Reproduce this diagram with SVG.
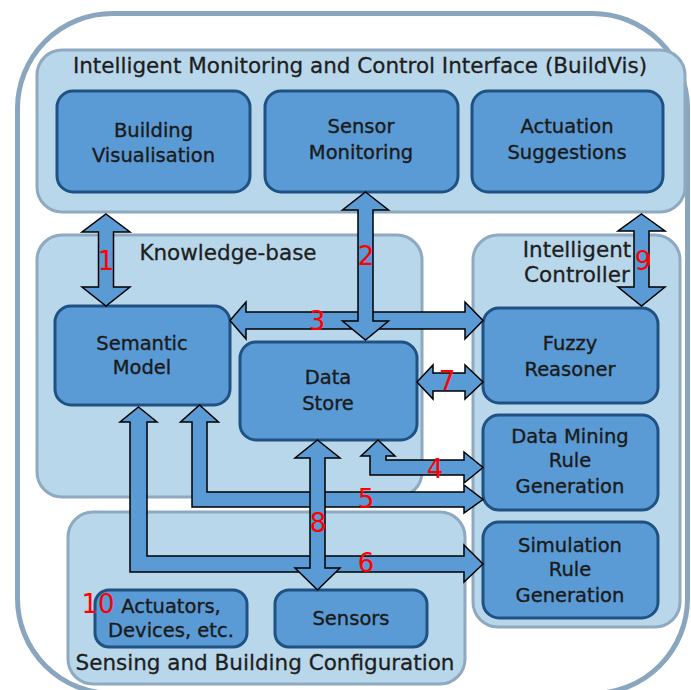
<svg xmlns="http://www.w3.org/2000/svg" width="691" height="690" viewBox="0 0 691 690">
<style>
.outer{fill:#ffffff;stroke:#8aa6be;stroke-width:5}
.panel{fill:#b8d7ea;stroke:#8ea9c0;stroke-width:3}
.node{fill:#5b9bd5;stroke:#1f5283;stroke-width:3}
.ptitle{font-family:"DejaVu Sans",sans-serif;font-size:21.5px;fill:#1e1e1e;stroke:#1e1e1e;stroke-width:0.3;text-anchor:middle}
.ntext{font-family:"DejaVu Sans",sans-serif;font-size:19.5px;fill:#1a1a1a;stroke:#1a1a1a;stroke-width:0.35;text-anchor:middle}
.arrow{fill:#5b9bd5;stroke:#000000;stroke-width:1.5;stroke-linejoin:miter}
.num{font-family:"DejaVu Sans",sans-serif;font-size:26px;fill:#ff0000;text-anchor:middle}
</style>
<rect class="outer" x="17.5" y="13.5" width="670" height="680" rx="95" ry="95"/>

<g id="panel-buildvis">
<rect class="panel" x="37" y="50" width="648" height="162" rx="25" ry="25"/>
<text class="ptitle" x="360" y="73">Intelligent Monitoring and Control Interface (BuildVis)</text>
</g>
<g id="panel-knowledge">
<rect class="panel" x="37" y="235" width="385" height="262" rx="25" ry="25"/>
<text class="ptitle" x="228" y="260">Knowledge-base</text>
</g>
<g id="panel-controller">
<rect class="panel" x="473" y="235" width="207" height="392" rx="25" ry="25"/>
<text class="ptitle" x="577" y="257">Intelligent</text>
<text class="ptitle" x="577" y="282">Controller</text>
</g>
<g id="panel-sensing">
<rect class="panel" x="68" y="512" width="397" height="172" rx="25" ry="25"/>
<text class="ptitle" x="265" y="670">Sensing and Building Configuration</text>
</g>

<g id="node-building-vis">
<rect class="node" x="57" y="91" width="193" height="101" rx="16" ry="16"/>
<text class="ntext" x="153.5" y="137">Building</text>
<text class="ntext" x="153.5" y="162">Visualisation</text>
</g>
<g id="node-sensor-monitoring">
<rect class="node" x="265" y="91" width="193" height="101" rx="16" ry="16"/>
<text class="ntext" x="361" y="133">Sensor</text>
<text class="ntext" x="361" y="159">Monitoring</text>
</g>
<g id="node-actuation">
<rect class="node" x="472" y="91" width="191" height="101" rx="16" ry="16"/>
<text class="ntext" x="567" y="133">Actuation</text>
<text class="ntext" x="567" y="159">Suggestions</text>
</g>
<g id="node-semantic-model">
<rect class="node" x="55" y="306" width="175" height="99" rx="16" ry="16"/>
<text class="ntext" x="142" y="350">Semantic</text>
<text class="ntext" x="142" y="374">Model</text>
</g>
<g id="node-data-store">
<rect class="node" x="240" y="342" width="177" height="98" rx="16" ry="16"/>
<text class="ntext" x="328" y="384">Data</text>
<text class="ntext" x="328" y="410">Store</text>
</g>
<g id="node-fuzzy">
<rect class="node" x="483" y="308" width="175" height="95" rx="16" ry="16"/>
<text class="ntext" x="570" y="350">Fuzzy</text>
<text class="ntext" x="570" y="376">Reasoner</text>
</g>
<g id="node-data-mining">
<rect class="node" x="483" y="415" width="175" height="95" rx="16" ry="16"/>
<text class="ntext" x="570" y="443">Data Mining</text>
<text class="ntext" x="570" y="467">Rule</text>
<text class="ntext" x="570" y="493">Generation</text>
</g>
<g id="node-simulation">
<rect class="node" x="483" y="522" width="175" height="96" rx="16" ry="16"/>
<text class="ntext" x="570" y="552">Simulation</text>
<text class="ntext" x="570" y="576">Rule</text>
<text class="ntext" x="570" y="602">Generation</text>
</g>
<g id="node-actuators">
<rect class="node" x="95" y="590" width="152" height="57" rx="14" ry="14"/>
<text class="ntext" x="171" y="613">Actuators,</text>
<text class="ntext" x="171" y="637">Devices, etc.</text>
</g>
<g id="node-sensors">
<rect class="node" x="275" y="590" width="152" height="57" rx="14" ry="14"/>
<text class="ntext" x="351" y="625">Sensors</text>
</g>

<g id="connectors">
<path class="arrow" d="M106,214 L130,232 L113.5,232 L113.5,287 L130,287 L106,306 L82,287 L98.5,287 L98.5,232 L82,232 Z"/>
<path class="arrow" d="M230,320.5 L246,302 L246,312 L465,312 L465,302 L483,320.5 L465,339 L465,329 L246,329 L246,339 Z"/>
<path class="arrow" d="M365.5,192 L388.5,210 L373,210 L373,321 L388.5,321 L365.5,340 L342.5,321 L358,321 L358,210 L342.5,210 Z"/>
<path class="arrow" d="M417,382 L433,365 L433,373 L465,373 L465,365 L483,382 L465,399 L465,391 L433,391 L433,399 Z"/>
<path class="arrow" d="M641.5,214 L665,231 L649,231 L649,287 L665,287 L641.5,306 L618,287 L634,287 L634,231 L618,231 Z"/>
<path class="arrow" d="M378,440 L395,456 L386,456 L386,460 L464,460 L464,452 L483,467.5 L464,483 L464,475 L370,475 L370,456 L361,456 Z"/>
<path class="arrow" d="M199.5,405 L218.5,422 L207,422 L207,492 L464,492 L464,485 L483,499.5 L464,513 L464,507 L192,507 L192,422 L180.5,422 Z"/>
<path class="arrow" d="M138.5,407 L157,422 L147,422 L147,556 L464,556 L464,545 L483,564 L464,582 L464,572 L130,572 L130,422 L120,422 Z"/>
<path class="arrow" d="M317.5,440 L340,458 L325,458 L325,568 L340,568 L317.5,590 L295,568 L310,568 L310,458 L295,458 Z"/>
</g>

<g id="labels">
<text class="num" x="106" y="270">1</text>
<text class="num" x="366" y="265">2</text>
<text class="num" x="317" y="330">3</text>
<text class="num" x="435" y="478">4</text>
<text class="num" x="366" y="508">5</text>
<text class="num" x="366" y="572">6</text>
<text class="num" x="447" y="390">7</text>
<text class="num" x="318" y="532">8</text>
<text class="num" x="643" y="270">9</text>
<text class="num" x="98" y="613">10</text>
</g>
</svg>
